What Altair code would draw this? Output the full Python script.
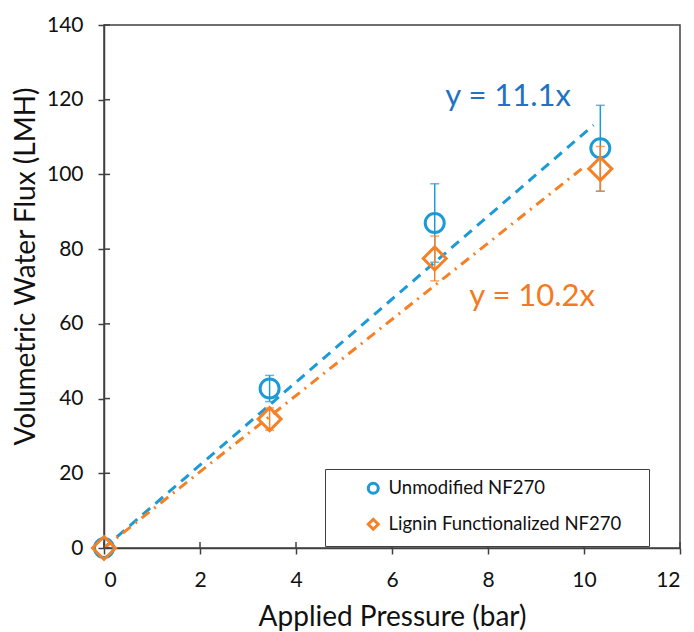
import altair as alt
import pandas as pd

# ---- data ----
series_names = ["Unmodified NF270", "Lignin Functionalized NF270"]
pressure = [0.0, 3.45, 6.89, 10.34]
flux_unmod = [0.0, 42.7, 87.0, 107.0]
err_unmod = [0.0, 3.5, 10.5, 11.5]
flux_lignin = [0.0, 34.5, 77.5, 101.5]
err_lignin = [0.0, 3.0, 6.0, 6.0]

slopes = [11.1, 10.2]
trend_end = [10.2, 9.95]
labels_txt = ["y = 11.1x", "y = 10.2x"]
label_x = [8.42, 8.92]
label_y = [120.7, 67.2]

x_ticks = [0, 2, 4, 6, 8, 10, 12]
y_ticks = [0, 20, 40, 60, 80, 100, 120, 140]

BLUE = "#1B9AD6"
ORANGE = "#F58025"
BLUE_TXT = "#1F72C4"
ORANGE_TXT = "#F47A20"
AXIS_COL = "#404040"
TXT = "#111111"
FONT = "Lato"
MARKER_SIZES = [361, 529]

W, H = 576, 523

rows = []
for name, ys, es in [(series_names[0], flux_unmod, err_unmod), (series_names[1], flux_lignin, err_lignin)]:
    for x, y, e in zip(pressure, ys, es):
        rows.append({"series": name, "x": x, "y": y, "lo": y - e, "hi": y + e, "err": e})
df = pd.DataFrame(rows)
df_err = df[df["err"] > 0]

trend_rows = []
for name, s, xe in zip(series_names, slopes, trend_end):
    for x in [0.0, xe]:
        trend_rows.append({"series": name, "x": x, "y": s * x})
df_trend = pd.DataFrame(trend_rows)

df_lab = pd.DataFrame({"txt": labels_txt, "x": label_x, "y": label_y, "series": series_names})
df_xt = pd.DataFrame({"x": x_ticks})
df_yt = pd.DataFrame({"y": y_ticks})

xs = alt.Scale(domain=[0, 12], nice=False, zero=False)
ys_ = alt.Scale(domain=[0, 140], nice=False, zero=False)

x_axis = alt.Axis(values=x_ticks, title="Applied Pressure (bar)", grid=False,
                  tickSize=6, tickColor=AXIS_COL, domainColor=AXIS_COL, domainWidth=1.5, tickWidth=1.5,
                  labelFontSize=21, labelFont=FONT, labelColor=TXT, labelPadding=15,
                  titleFontSize=28, titleFont=FONT, titleFontWeight="normal", titleColor=TXT,
                  titleY=77, titleBaseline="alphabetic")
y_axis = alt.Axis(values=y_ticks, title="Volumetric Water Flux (LMH)", grid=False,
                  tickSize=6, tickColor=AXIS_COL, domainColor=AXIS_COL, domainWidth=1.5, tickWidth=1.5,
                  labelFontSize=21, labelFont=FONT, labelColor=TXT, labelPadding=15,
                  titleFontSize=28, titleFont=FONT, titleFontWeight="normal", titleColor=TXT,
                  titleX=-78, titleY=241, titleAngle=270, titleAlign="center", titleBaseline="middle")

legend = alt.Legend(title="\u00a0", titleOrient="right", titlePadding=18, titleFontSize=6,
                    titleColor="white",
                    orient="none", legendX=221, legendY=444,
                    strokeColor=AXIS_COL, fillColor="white", padding=10,
                    symbolOffset=29, labelFontSize=18.5, labelFont=FONT, labelLimit=400,
                    labelColor=TXT, symbolSize=100, symbolStrokeWidth=3,
                    rowPadding=13, labelOffset=6, cornerRadius=0)

color_scale = alt.Scale(domain=series_names, range=[BLUE, ORANGE])
shape_scale = alt.Scale(domain=series_names, range=["circle", "diamond"])

trend_blue = alt.Chart(df_trend[df_trend["series"] == series_names[0]]).mark_line(
    color=BLUE, strokeWidth=3, strokeDash=[10, 7]).encode(
    x=alt.X("x:Q", scale=xs, axis=x_axis), y=alt.Y("y:Q", scale=ys_, axis=y_axis))
trend_orange = alt.Chart(df_trend[df_trend["series"] == series_names[1]]).mark_line(
    color=ORANGE, strokeWidth=3, strokeDash=[10, 6, 2, 6]).encode(
    x=alt.X("x:Q", scale=xs), y=alt.Y("y:Q", scale=ys_))

# error bars and markers: one set of layers per series
series_layers = []
for name, col, msize in zip(series_names, [BLUE, ORANGE], MARKER_SIZES):
    d = df_err[df_err["series"] == name]
    series_layers.append(alt.Chart(d).mark_rule(strokeWidth=1.5, color=col).encode(
        x=alt.X("x:Q", scale=xs), y=alt.Y("lo:Q", scale=ys_), y2="hi:Q"))
    series_layers.append(alt.Chart(d).mark_tick(thickness=1.5, size=9, orient="horizontal", color=col).encode(
        x=alt.X("x:Q", scale=xs), y=alt.Y("lo:Q", scale=ys_)))
    series_layers.append(alt.Chart(d).mark_tick(thickness=1.5, size=9, orient="horizontal", color=col).encode(
        x=alt.X("x:Q", scale=xs), y=alt.Y("hi:Q", scale=ys_)))
    series_layers.append(alt.Chart(df[df["series"] == name]).mark_point(
        filled=False, strokeWidth=3, opacity=1, size=msize).encode(
        x=alt.X("x:Q", scale=xs), y=alt.Y("y:Q", scale=ys_),
        color=alt.Color("series:N", scale=color_scale, legend=legend),
        shape=alt.Shape("series:N", scale=shape_scale, legend=legend)))

lab_blue = alt.Chart(df_lab[df_lab["series"] == series_names[0]]).mark_text(
    fontSize=31, font=FONT, align="center", baseline="middle", color=BLUE_TXT).encode(
    x=alt.X("x:Q", scale=xs), y=alt.Y("y:Q", scale=ys_), text="txt:N")
lab_orange = alt.Chart(df_lab[df_lab["series"] == series_names[1]]).mark_text(
    fontSize=31, font=FONT, align="center", baseline="middle", color=ORANGE_TXT).encode(
    x=alt.X("x:Q", scale=xs), y=alt.Y("y:Q", scale=ys_), text="txt:N")

# inward half of the cross ticks
xt_in = alt.Chart(df_xt).mark_rule(color=AXIS_COL, strokeWidth=1.5).encode(
    x=alt.X("x:Q", scale=xs), y=alt.value(H - 6), y2=alt.value(H))
yt_in = alt.Chart(df_yt).mark_rule(color=AXIS_COL, strokeWidth=1.5).encode(
    y=alt.Y("y:Q", scale=ys_), x=alt.value(0), x2=alt.value(6))

chart = alt.layer(trend_blue, trend_orange, xt_in, yt_in, *series_layers,
                  lab_blue, lab_orange).properties(
    width=W, height=H, autosize=alt.AutoSizeParams(type="none"),
    padding={"left": 104, "top": 25, "right": 14, "bottom": 84},
    background="white").configure_view(stroke=AXIS_COL, strokeWidth=1.5)

chart.save("out.html", embed_options={"renderer": "svg", "actions": False})
